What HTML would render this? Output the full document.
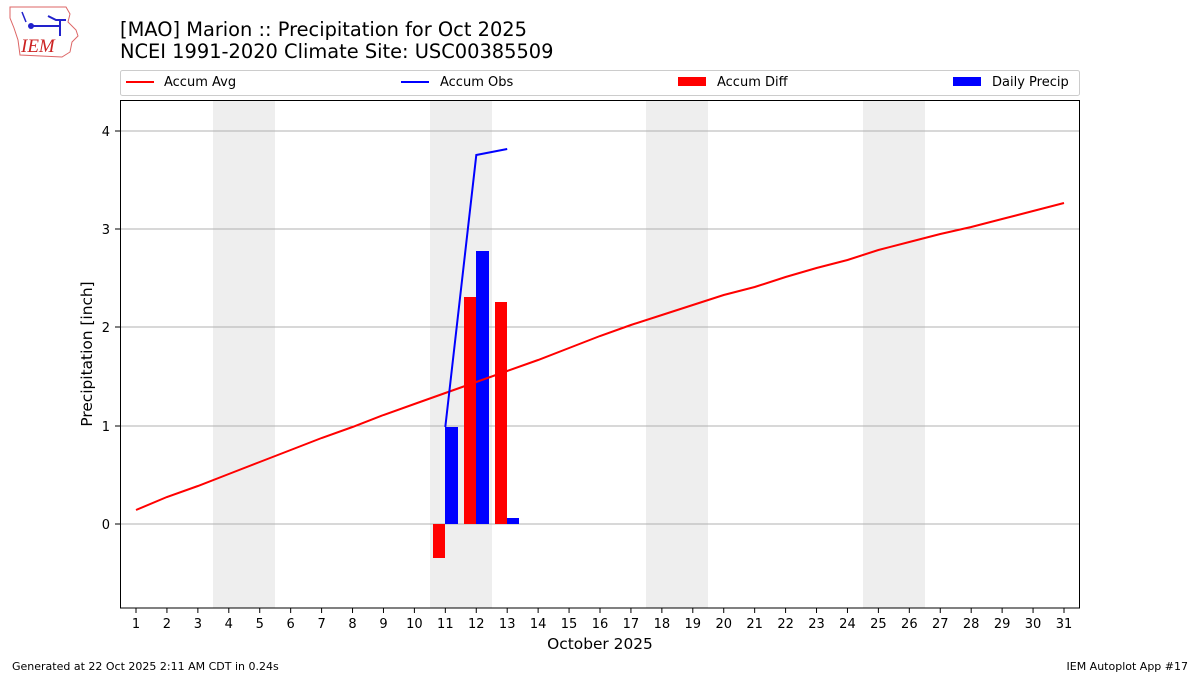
<!DOCTYPE html>
<html><head><meta charset="utf-8"><style>body{margin:0;background:#fff}svg{display:block;font-family:"DejaVu Sans","Liberation Sans",sans-serif}</style></head><body>
<svg width="1200" height="675" viewBox="0 0 1200 675" xmlns="http://www.w3.org/2000/svg">
<rect width="1200" height="675" fill="#fff"/>
<path d="M10 7 L66 7 L70 14 L68 22 L76 30 L78 36 L72 42 L70 52 L62 57 L20 55 L18 40 L14 28 L10 18 Z" fill="none" stroke="#d66" stroke-width="1"/>
<path d="M32 26 L60 26 M60 20 L60 36 M48 16 L56 20 L66 20" stroke="#22c" stroke-width="2" fill="none"/>
<circle cx="31" cy="26" r="3" fill="#22c"/>
<path d="M22 12 L26 22" stroke="#22c" stroke-width="1.5"/>
<text x="21" y="52" font-family="Liberation Serif,serif" font-style="italic" font-size="19" fill="#c22">IEM</text>
<text x="120" y="36" font-size="19.4" fill="#000">[MAO] Marion :: Precipitation for Oct 2025</text>
<text x="120" y="58" font-size="19.4" fill="#000">NCEI 1991-2020 Climate Site: USC00385509</text>
<rect x="120.5" y="70.5" width="959" height="25" rx="2" fill="#fff" stroke="#ccc"/>
<line x1="126" y1="82" x2="154" y2="82" stroke="#f00" stroke-width="2"/>
<text x="164" y="86" font-size="13">Accum Avg</text>
<line x1="401" y1="82" x2="429" y2="82" stroke="#00f" stroke-width="2"/>
<text x="440" y="86" font-size="13">Accum Obs</text>
<rect x="678" y="77" width="28" height="9" fill="#f00"/>
<text x="717" y="86" font-size="13">Accum Diff</text>
<rect x="953" y="77" width="28" height="9" fill="#00f"/>
<text x="992" y="86" font-size="13">Daily Precip</text>
<g fill="#eee">
<rect x="213" y="100" width="62" height="508"/>
<rect x="430" y="100" width="62" height="508"/>
<rect x="646" y="100" width="62" height="508"/>
<rect x="863" y="100" width="62" height="508"/>
</g>
<g stroke="#b0b0b0" stroke-width="1">
<line x1="120" y1="131" x2="1080" y2="131"/>
<line x1="120" y1="229" x2="1080" y2="229"/>
<line x1="120" y1="327" x2="1080" y2="327"/>
<line x1="120" y1="426" x2="1080" y2="426"/>
<line x1="120" y1="524" x2="1080" y2="524"/>
</g>
<rect x="433" y="524" width="12" height="34" fill="#f00"/>
<rect x="445" y="427" width="13" height="97" fill="#00f"/>
<rect x="464" y="297" width="12" height="227" fill="#f00"/>
<rect x="476" y="251" width="13" height="273" fill="#00f"/>
<rect x="495" y="302" width="12" height="222" fill="#f00"/>
<rect x="507" y="518" width="12" height="6" fill="#00f"/>
<polyline fill="none" stroke="#f00" stroke-width="2" points="136,510 166.9,497 197.9,486 228.8,474 259.7,462 290.7,450 321.6,438 352.5,427 383.5,415 414.4,404 445.3,393 476.3,382 507.2,371 538.1,360 569.1,348 600,336 630.9,325 661.9,315 692.8,305 723.7,295 754.7,287 785.6,277 816.5,268 847.5,260 878.4,250 909.3,242 940.3,234 971.2,227 1002.1,219 1033.1,211 1064,203"/>
<polyline fill="none" stroke="#00f" stroke-width="2" points="445.3,427 476.3,155 507.2,149"/>
<rect x="120.5" y="100.5" width="959" height="507.5" fill="none" stroke="#000" stroke-width="1"/>
<g font-size="13" text-anchor="end" fill="#000">
<text x="110" y="136">4</text><text x="110" y="234">3</text><text x="110" y="332">2</text><text x="110" y="431">1</text><text x="110" y="529">0</text>
</g>
<g stroke="#000"><line x1="115" y1="131" x2="120" y2="131"/><line x1="115" y1="229" x2="120" y2="229"/><line x1="115" y1="327" x2="120" y2="327"/><line x1="115" y1="426" x2="120" y2="426"/><line x1="115" y1="524" x2="120" y2="524"/></g>
<text transform="translate(92,354) rotate(-90)" font-size="15.4" text-anchor="middle">Precipitation [inch]</text>
<g id="xt" font-size="13" text-anchor="middle"></g>
<g id="xtk" stroke="#000"></g>
<text x="600" y="649" font-size="15.4" text-anchor="middle">October 2025</text>
<text x="12" y="670" font-size="11">Generated at 22 Oct 2025 2:11 AM CDT in 0.24s</text>
<text x="1188" y="670" font-size="11" text-anchor="end">IEM Autoplot App #17</text>
<script>
var g=document.getElementById('xt'),t=document.getElementById('xtk'),ns='http://www.w3.org/2000/svg';
for(var d=1;d<=31;d++){var x=136+(d-1)*30.933;var e=document.createElementNS(ns,'text');e.setAttribute('x',x);e.setAttribute('y',628);e.textContent=d;g.appendChild(e);
var l=document.createElementNS(ns,'line');l.setAttribute('x1',x);l.setAttribute('x2',x);l.setAttribute('y1',608);l.setAttribute('y2',613);t.appendChild(l);}
</script>
</svg>
</body></html>
